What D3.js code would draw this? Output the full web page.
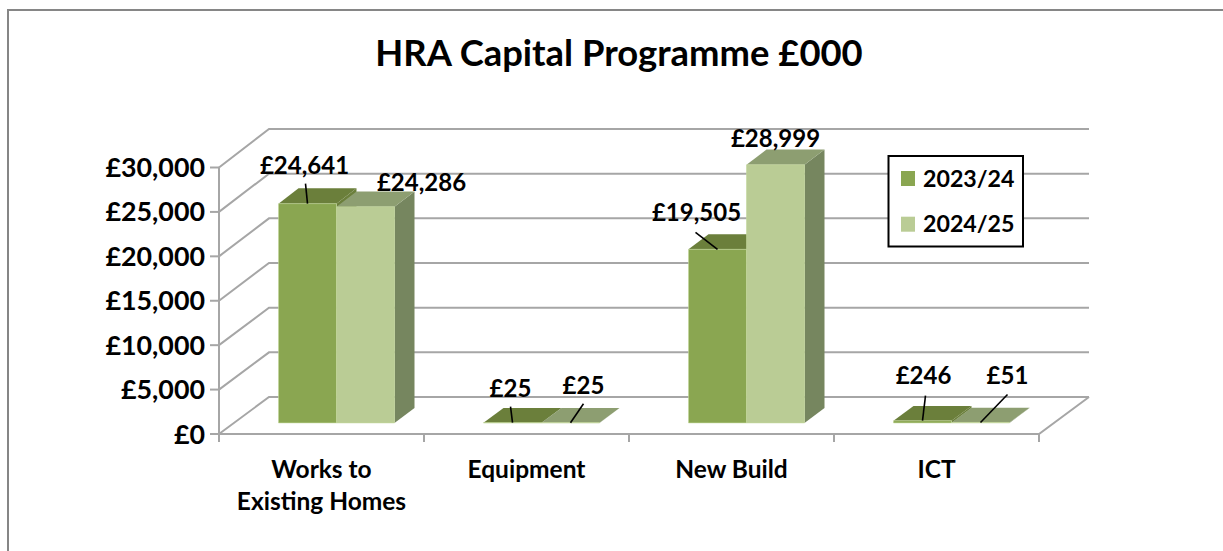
<!DOCTYPE html>
<html>
<head>
<meta charset="utf-8">
<script src="https://cdn.jsdelivr.net/npm/d3@7"></script>
<style>
  html, body { margin: 0; padding: 0; background: #fff; }
  svg { display: block; }
  text { font-family: Lato, "Open Sans", sans-serif; font-weight: 700; fill: #000; }
</style>
</head>
<body>
<div id="chart"></div>
<script>
// data
const categories = [['Works to', 'Existing Homes'], ['Equipment'], ['New Build'], ['ICT']];
const seriesNames = ['2023/24', '2024/25'];
const values2023 = [24641, 25, 19505, 246];
const values2024 = [24286, 25, 28999, 51];
const valueTicks = [0, 5000, 10000, 15000, 20000, 25000, 30000];

// label placement relative to the top of each bar: [dx, dy, leaderDx, leaderDy], no leader if null
const labelPlace2023 = [[-3, -38, -2, -20], [-2, -34, -2, -16], [-21, -36, -22, -17], [1, -45, 3, -25]];
const labelPlace2024 = [[56, -24, null, null], [13, -37, 13, -19], [0, -26, null, null], [27, -46, 27, -28]];

const width = 1223, height = 551;
const money = d3.format('$,');
const fmt = (v) => money(v).replace('$', '£');

// the depth of the 3d box: a point at depth d (0 front, 1 back) shifts right and up
const depthX = 50;
const x = d3.scaleBand().domain(d3.range(categories.length)).range([219, 1039]);
const yFront = d3.scaleLinear().domain([0, 30000]).range([434, 167.5]);
const yBack = d3.scaleLinear().domain([0, 30000]).range([397, 129]);
const barFront = 0.3, barBack = 0.7;
const inner = d3.scaleBand().domain([0, 1]).range([44.5, 160.5]);

const px = (xv, d) => xv + depthX * d;
const py = (v, d) => yFront(v) * (1 - d) + yBack(v) * d;

const svg = d3.select('#chart').append('svg')
  .attr('width', width)
  .attr('height', height);

// chart frame, runs off the bottom of the picture
svg.append('path')
  .attr('d', 'M8,551V10H1223')
  .attr('fill', 'none')
  .attr('stroke', '#868686')
  .attr('stroke-width', 2);

svg.append('text')
  .attr('x', 619)
  .attr('y', 66)
  .attr('text-anchor', 'middle')
  .style('font-size', '36.4px')
  .text('HRA Capital Programme £000');

// walls
const grid = svg.append('g')
  .attr('stroke', '#a6a6a6')
  .attr('stroke-width', 2)
  .attr('fill', 'none');

grid.selectAll('.back')
  .data(valueTicks)
  .enter()
  .append('path')
  .attr('class', 'back')
  .attr('d', (v) => `M${px(219, 0)},${yFront(v)}L${px(219, 1)},${yBack(v)}H${px(1039, 1)}`);

grid.append('path')
  .attr('d', `M${px(1039, 1)},${yBack(0)}L${px(1039, 0)},${yFront(0)}H219V${yFront(30000)}`);

// axis ticks
grid.selectAll('.ytick')
  .data(valueTicks)
  .enter()
  .append('line')
  .attr('class', 'ytick')
  .attr('x1', 210)
  .attr('x2', 219)
  .attr('y1', (v) => yFront(v))
  .attr('y2', (v) => yFront(v));

grid.selectAll('.xtick')
  .data(d3.range(categories.length + 1))
  .enter()
  .append('line')
  .attr('class', 'xtick')
  .attr('x1', (i) => 219 + i * x.step())
  .attr('x2', (i) => 219 + i * x.step())
  .attr('y1', yFront(0))
  .attr('y2', yFront(0) + 8);

svg.selectAll('.ylabel')
  .data(valueTicks)
  .enter()
  .append('text')
  .attr('class', 'ylabel')
  .attr('x', 205)
  .attr('y', (v) => yFront(v) + 9.5)
  .attr('text-anchor', 'end')
  .style('font-size', '26.8px')
  .text(fmt);

const catLabel = svg.selectAll('.xlabel')
  .data(categories)
  .enter()
  .append('text')
  .attr('class', 'xlabel')
  .attr('text-anchor', 'middle')
  .style('font-size', '24.5px');

catLabel.selectAll('tspan')
  .data((d, i) => d.map((line, n) => ({ line, n, i })))
  .enter()
  .append('tspan')
  .attr('x', (d) => x(d.i) + x.step() / 2)
  .attr('y', (d) => 477.5 + d.n * 32)
  .text((d) => d.line);

// bars, one group per series. later ones sit in front of the earlier side face
const palette = [
  { front: '#8aa651', top: '#6b7f3b', side: '#6b7f3b' },
  { front: '#bacc95', top: '#8d9e71', side: '#76865f' }
];

function boxFaces(i, s, v) {
  let x0 = x(i) + inner(s);
  let x1 = x0 + inner.bandwidth();
  let p = (xv, val, d) => [px(xv, d), py(val, d)];
  return {
    front: [p(x0, 0, barFront), p(x1, 0, barFront), p(x1, v, barFront), p(x0, v, barFront)],
    top: [p(x0, v, barFront), p(x1, v, barFront), p(x1, v, barBack), p(x0, v, barBack)],
    side: [p(x1, 0, barFront), p(x1, 0, barBack), p(x1, v, barBack), p(x1, v, barFront)]
  };
}

const toPath = (pts) => 'M' + pts.join('L') + 'Z';
const allValues = [values2023, values2024];

categories.forEach((cat, i) => {
  [0, 1].forEach((s) => {
    let faces = boxFaces(i, s, allValues[s][i]);
    ['side', 'top', 'front'].forEach((f) => {
      svg.append('path')
        .attr('d', toPath(faces[f]))
        .attr('fill', palette[s][f])
        .attr('stroke', f === 'front' ? '#c3d69b' : 'none')
        .attr('stroke-width', f === 'front' ? 0.6 : 0);
    });
  });
});

// data labels and leader lines
const allPlace = [labelPlace2023, labelPlace2024];
allValues.forEach((vals, s) => {
  vals.forEach((v, i) => {
    let ax = px(x(i) + inner(s) + inner.bandwidth() / 2, barFront);
    let ay = py(v, barFront);
    let [dx, dy, lx, ly] = allPlace[s][i];
    if (lx !== null) {
      svg.append('line')
        .attr('x1', ax + lx)
        .attr('y1', ay + ly)
        .attr('x2', ax)
        .attr('y2', ay)
        .attr('stroke', '#000')
        .attr('stroke-width', 1.6);
    }
    svg.append('text')
      .attr('x', ax + dx)
      .attr('y', ay + dy + 8)
      .attr('text-anchor', 'middle')
      .style('font-size', '24px')
      .text(fmt(v));
  });
});

// legend
const legend = svg.append('g');
legend.append('rect')
  .attr('x', 888.5)
  .attr('y', 156)
  .attr('width', 134.5)
  .attr('height', 90.5)
  .attr('fill', '#fff')
  .attr('stroke', '#000')
  .attr('stroke-width', 2);

seriesNames.forEach((name, s) => {
  legend.append('rect')
    .attr('x', 901)
    .attr('y', 171 + s * 45.7)
    .attr('width', 14)
    .attr('height', 15)
    .attr('fill', palette[s].front);
  legend.append('text')
    .attr('x', 923)
    .attr('y', 186.5 + s * 45.7)
    .style('font-size', '23.2px')
    .text(name);
});
</script>
</body>
</html>
